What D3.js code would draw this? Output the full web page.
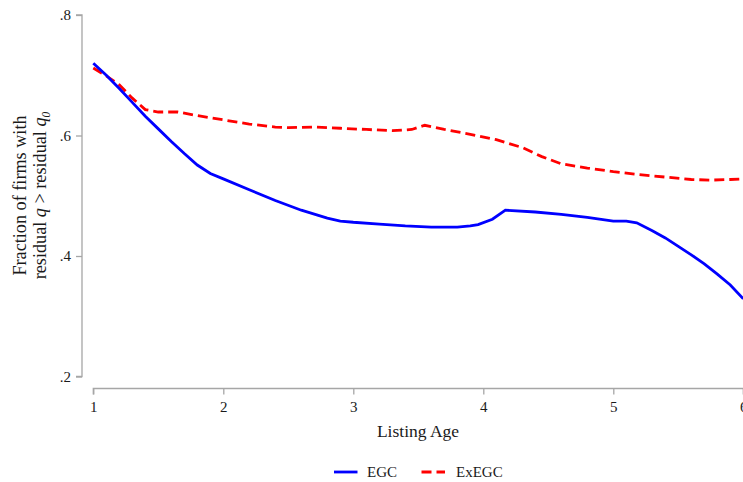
<!DOCTYPE html>
<html>
<head>
<meta charset="utf-8">
<script src="https://cdn.jsdelivr.net/npm/d3@7"></script>
<style>
  html, body { margin: 0; padding: 0; background: #fff; }
  svg { display: block; }
  text { font-family: "Liberation Serif", "DejaVu Serif", serif; fill: #1a1a1a; }
</style>
</head>
<body>
<script>
// Listing age (years) at which each curve is sampled
const egcAge = [1.0, 1.1, 1.2, 1.3, 1.4, 1.5, 1.6, 1.7, 1.8, 1.9, 2.0, 2.2, 2.4, 2.6, 2.8, 2.9, 3.0, 3.2, 3.4, 3.6, 3.7, 3.8, 3.9, 3.96, 4.07, 4.17, 4.4, 4.6, 4.8, 5.0, 5.1, 5.18, 5.3, 5.4, 5.5, 5.6, 5.7, 5.8, 5.9, 6.0];
const egcShare = [0.720, 0.700, 0.678, 0.655, 0.632, 0.611, 0.590, 0.570, 0.551, 0.537, 0.528, 0.510, 0.492, 0.476, 0.463, 0.458, 0.456, 0.453, 0.450, 0.448, 0.448, 0.448, 0.450, 0.452, 0.461, 0.476, 0.473, 0.469, 0.464, 0.458, 0.458, 0.455, 0.442, 0.430, 0.416, 0.402, 0.387, 0.370, 0.352, 0.329];

const exegcAge = [1.0, 1.1, 1.2, 1.3, 1.4, 1.5, 1.65, 1.8, 2.0, 2.2, 2.4, 2.5, 2.7, 2.9, 3.1, 3.3, 3.45, 3.55, 3.7, 3.9, 4.1, 4.3, 4.45, 4.6, 4.8, 5.0, 5.2, 5.4, 5.6, 5.75, 5.9, 6.0];
const exegcShare = [0.712, 0.699, 0.684, 0.662, 0.643, 0.639, 0.639, 0.633, 0.626, 0.619, 0.614, 0.613, 0.614, 0.612, 0.610, 0.608, 0.610, 0.617, 0.610, 0.602, 0.593, 0.580, 0.565, 0.553, 0.546, 0.540, 0.535, 0.531, 0.527, 0.526, 0.527, 0.528];

const xTicks = [1, 2, 3, 4, 5, 6];
const yTicks = [0.2, 0.4, 0.6, 0.8];
const seriesNames = ["EGC", "ExEGC"];

const W = 743, H = 482;
const svg = d3.select("body").append("svg").attr("width", W).attr("height", H);

const x = d3.scaleLinear().domain([1, 6]).range([93.3, 743.3]);
const y = d3.scaleLinear().domain([0.2, 0.8]).range([376.5, 15]);

const axisGrey = "#a6a6a6";

// y axis (offset to the left of the plotted range)
const yAxis = svg.append("g").attr("transform", "translate(82,0)")
  .call(d3.axisLeft(y).tickValues(yTicks).tickSize(6).tickPadding(5)
    .tickFormat(d => d3.format(".1f")(d).replace(/^0/, "")));
yAxis.select(".domain").attr("stroke", axisGrey).attr("stroke-width", 1.3)
  .attr("d", `M-6,${y(0.8)}H0V${y(0.2)}H-6`);
yAxis.selectAll(".tick line").attr("stroke", axisGrey).attr("stroke-width", 1.3);
yAxis.selectAll(".tick text").style("font-size", "15px").attr("fill", "#1a1a1a");

// x axis (dropped below the plotted range)
const xAxis = svg.append("g").attr("transform", "translate(0,388.5)")
  .call(d3.axisBottom(x).tickValues(xTicks).tickSize(6).tickPadding(7).tickFormat(d3.format("d")));
xAxis.select(".domain").attr("stroke", axisGrey).attr("stroke-width", 1.3)
  .attr("d", `M${x(1)},6V0H${x(6)}V6`);
xAxis.selectAll(".tick line").attr("stroke", axisGrey).attr("stroke-width", 1.3);
xAxis.selectAll(".tick text").style("font-size", "15px").attr("fill", "#1a1a1a");

// axis titles
svg.append("text").attr("x", 418).attr("y", 437).attr("text-anchor", "middle")
  .style("font-size", "17.5px").text("Listing Age");

const yTitle = svg.append("text").attr("transform", "translate(0,195.5) rotate(-90)")
  .attr("text-anchor", "middle").style("font-size", "18.2px");
yTitle.append("tspan").attr("x", 0).attr("y", 25.5).text("Fraction of firms with");
const l2 = yTitle.append("tspan").attr("x", 0).attr("y", 45.5);
l2.append("tspan").text("residual ");
l2.append("tspan").style("font-style", "italic").text("q");
l2.append("tspan").text(" > residual ");
l2.append("tspan").style("font-style", "italic").text("q");
l2.append("tspan").style("font-style", "italic").style("font-size", "11.5px").attr("dy", 4).text("0");

// curves
const line = d3.line().x(d => x(d[0])).y(d => y(d[1]));
const egc = d3.zip(egcAge, egcShare);
const exegc = d3.zip(exegcAge, exegcShare);

svg.append("path").datum(exegc).attr("d", line)
  .attr("fill", "none").attr("stroke", "#ff0000").attr("stroke-width", 2.8)
  .attr("stroke-dasharray", "10,5");
svg.append("path").datum(egc).attr("d", line)
  .attr("fill", "none").attr("stroke", "#0000ff").attr("stroke-width", 2.8);

// legend
const legend = svg.append("g");
const legendItems = [
  { name: seriesNames[0], color: "#0000ff", dash: null, x0: 334, tx: 367 },
  { name: seriesNames[1], color: "#ff0000", dash: "10,5", x0: 421.5, tx: 456 }
];
legendItems.forEach(it => {
  legend.append("line").attr("x1", it.x0).attr("x2", it.x0 + 23.5).attr("y1", 472).attr("y2", 472)
    .attr("stroke", it.color).attr("stroke-width", 2.8)
    .attr("stroke-dasharray", it.dash);
  legend.append("text").attr("x", it.tx).attr("y", 477).style("font-size", "15px").text(it.name);
});
</script>
</body>
</html>
